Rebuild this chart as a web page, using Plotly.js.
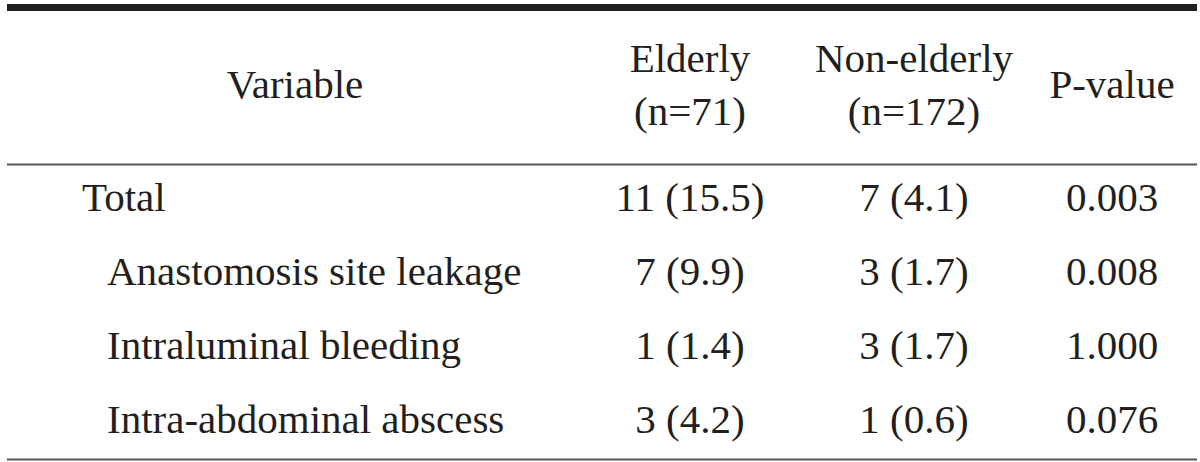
<!DOCTYPE html>
<html>
<head>
<meta charset="utf-8">
<script src="https://cdn.plot.ly/plotly-3.0.1.min.js"></script>
<style>html,body{margin:0;padding:0;background:#fff;}#chart{width:1200px;height:462px;}</style>
</head>
<body>
<div id="chart"></div>
<script>
// ---- data ----
const headers = ["Variable", "Elderly<br>(n=71)", "Non-elderly<br>(n=172)", "P-value"];
const variables = ["Total", "Anastomosis site leakage", "Intraluminal bleeding", "Intra-abdominal abscess"];
const indentLevel = [0, 1, 1, 1];
const elderly = ["11 (15.5)", "7 (9.9)", "1 (1.4)", "3 (4.2)"];
const nonElderly = ["7 (4.1)", "3 (1.7)", "3 (1.7)", "1 (0.6)"];
const pValues = ["0.003", "0.008", "1.000", "0.076"];

// ---- layout geometry (positions, not data) ----
const W = 1200, H = 462;
const colCenters = [295, 690, 914, 1112];
const leftX = [82, 107];
const headerY = 88;
const rowY0 = 201, rowStep = 74;
const txtColor = "#231f20";
const fontFam = "Liberation Serif, DejaVu Serif, serif";
const fs = 41;

const rowY = variables.map((_, i) => rowY0 + i * rowStep);

const traces = [];
// header
traces.push({
  type: "scatter", mode: "text",
  x: colCenters, y: headers.map(() => headerY),
  text: headers, textposition: "middle center",
  textfont: {family: fontFam, size: fs, color: txtColor},
  hoverinfo: "skip", showlegend: false
});
// variable names
traces.push({
  type: "scatter", mode: "text",
  x: variables.map((_, i) => leftX[indentLevel[i]]), y: rowY,
  text: variables, textposition: "middle right",
  textfont: {family: fontFam, size: fs, color: txtColor},
  hoverinfo: "skip", showlegend: false
});
[elderly, nonElderly, pValues].forEach((col, c) => {
  traces.push({
    type: "scatter", mode: "text",
    x: col.map(() => colCenters[c + 1]), y: rowY,
    text: col, textposition: "middle center",
    textfont: {family: fontFam, size: fs, color: txtColor},
    hoverinfo: "skip", showlegend: false
  });
});

const layout = {
  width: W, height: H,
  margin: {l: 0, r: 0, t: 0, b: 0},
  paper_bgcolor: "#ffffff", plot_bgcolor: "#ffffff",
  xaxis: {range: [0, W], visible: false, fixedrange: true},
  yaxis: {range: [H, 0], visible: false, fixedrange: true},
  shapes: [
    {type: "line", xref: "x", yref: "y", x0: 7, x1: 1197, y0: 7.5, y1: 7.5, line: {color: "#231f20", width: 7}},
    {type: "line", xref: "x", yref: "y", x0: 7, x1: 1197, y0: 164.5, y1: 164.5, line: {color: "#555555", width: 2}},
    {type: "line", xref: "x", yref: "y", x0: 7, x1: 1197, y0: 459.5, y1: 459.5, line: {color: "#555555", width: 2}}
  ]
};

Plotly.newPlot("chart", traces, layout, {staticPlot: true, displayModeBar: false});
</script>
</body>
</html>
